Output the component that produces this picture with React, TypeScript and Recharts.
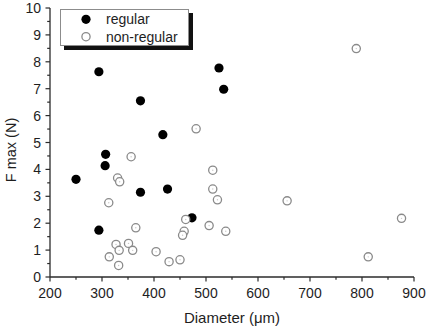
import React from 'react';
import { ScatterChart, Scatter, XAxis, YAxis, Legend } from 'recharts';

// Maximum force vs. fibre diameter, split by fibre shape
const regularDiameter = [250, 294, 306, 307, 294, 374, 374, 417, 426, 473, 525, 534];
const regularFmax = [3.63, 1.74, 4.14, 4.56, 7.63, 6.55, 3.15, 5.29, 3.27, 2.2, 7.77, 6.98];

const nonRegularDiameter = [
  481, 356, 789, 330, 334, 313, 365, 327, 351, 333, 359, 314, 332, 404,
  429, 450, 461, 458, 455, 506, 513, 513, 522, 538, 656, 876, 812,
];
const nonRegularFmax = [
  5.51, 4.47, 8.49, 3.68, 3.54, 2.76, 1.83, 1.21, 1.25, 0.99, 0.99, 0.75, 0.43, 0.94,
  0.57, 0.64, 2.14, 1.7, 1.55, 1.91, 3.97, 3.27, 2.87, 1.7, 2.83, 2.18, 0.75,
];

const xTicks = [200, 250, 300, 350, 400, 450, 500, 550, 600, 650, 700, 750, 800, 850, 900];
const yTicks = [0, 0.5, 1, 1.5, 2, 2.5, 3, 3.5, 4, 4.5, 5, 5.5, 6, 6.5, 7, 7.5, 8, 8.5, 9, 9.5, 10];

const regularData = regularDiameter.map((d, i) => ({ d, f: regularFmax[i] }));
const nonRegularData = nonRegularDiameter.map((d, i) => ({ d, f: nonRegularFmax[i] }));

const FONT = '"Liberation Sans", Arial, sans-serif';
const AXIS = '#2b2b2b';
const TEXT = '#1e1e1e';
const OPEN = '#8a8a8a';

const XTick = (props: any) => {
  const { x, y, payload } = props;
  const major = payload.value % 100 === 0;
  return (
    <g>
      <line x1={x} y1={y} x2={x} y2={y + (major ? 4.5 : 2.8)} stroke={AXIS} strokeWidth={1.2} />
      {major && (
        <text x={x} y={y + 21} textAnchor="middle" fontSize={14} fontFamily={FONT} fill={TEXT}>
          {payload.value}
        </text>
      )}
    </g>
  );
};

const YTick = (props: any) => {
  const { x, y, payload } = props;
  const major = Number.isInteger(payload.value);
  return (
    <g>
      <line x1={x} y1={y} x2={x - (major ? 4.5 : 2.8)} y2={y} stroke={AXIS} strokeWidth={1.2} />
      {major && (
        <text x={x - 9} y={y} dy="0.36em" textAnchor="end" fontSize={14} fontFamily={FONT} fill={TEXT}>
          {payload.value}
        </text>
      )}
    </g>
  );
};

const FilledDot = (props: any) => {
  const { cx, cy } = props;
  return <circle cx={cx} cy={cy} r={4.6} fill="#000" />;
};

const OpenDot = (props: any) => {
  const { cx, cy } = props;
  return (
    <g>
      <circle cx={cx} cy={cy} r={4.1} fill="#fff" stroke={OPEN} strokeWidth={1.3} />
      <circle cx={cx} cy={cy} r={0.7} fill="#c8c8c8" />
    </g>
  );
};

const LegendBox = () => (
  <div
    style={{
      width: 129,
      height: 37,
      boxSizing: 'border-box',
      border: '1px solid #8c8c8c',
      background: '#fff',
      boxShadow: '4px 4px 0 #111',
    }}
  >
    <svg width={127} height={35} style={{ display: 'block' }}>
      <circle cx={25} cy={9.3} r={4.6} fill="#000" />
      <text x={45} y={9.3} dy="0.36em" fontSize={14} fontFamily={FONT} fill={TEXT}>
        regular
      </text>
      <circle cx={25} cy={26.7} r={4.1} fill="#fff" stroke={OPEN} strokeWidth={1.3} />
      <text x={45} y={26.7} dy="0.36em" fontSize={14} fontFamily={FONT} fill={TEXT}>
        non-regular
      </text>
    </svg>
  </div>
);

export default function App() {
  return (
    <div style={{ position: 'absolute', left: 0, top: 0, width: 427, height: 329, background: '#fff' }}>
      <ScatterChart width={427} height={329} margin={{ top: 8, right: 13, bottom: 0, left: 0 }}>
        <XAxis
          type="number"
          dataKey="d"
          domain={[200, 900]}
          ticks={xTicks}
          interval={0}
          height={52}
          tickSize={0}
          tickMargin={0}
          tickLine={false}
          tick={<XTick />}
          axisLine={{ stroke: AXIS, strokeWidth: 1.3 }}
          label={{
            content: () => (
              <text x={232} y={323} textAnchor="middle" fontSize={15} fontFamily={FONT} fill={TEXT}>
                Diameter (μm)
              </text>
            ),
          }}
        />
        <YAxis
          type="number"
          dataKey="f"
          domain={[0, 10]}
          ticks={yTicks}
          interval={0}
          width={50}
          tickSize={0}
          tickMargin={0}
          tickLine={false}
          tick={<YTick />}
          axisLine={{ stroke: AXIS, strokeWidth: 1.3 }}
          label={{
            content: () => (
              <text
                x={11}
                y={150}
                transform="rotate(-90 11 150)"
                textAnchor="middle"
                dy="0.36em"
                fontSize={14.5}
                fontFamily={FONT}
                fill={TEXT}
              >
                F max (N)
              </text>
            ),
          }}
        />
        <Legend
          layout="vertical"
          align="center"
          verticalAlign="middle"
          content={<LegendBox />}
          wrapperStyle={{ left: 60, top: 9, width: 'auto', height: 'auto' }}
        />
        <Scatter name="regular" data={regularData} shape={<FilledDot />} isAnimationActive={false} />
        <Scatter name="non-regular" data={nonRegularData} shape={<OpenDot />} isAnimationActive={false} />
      </ScatterChart>
    </div>
  );
}
